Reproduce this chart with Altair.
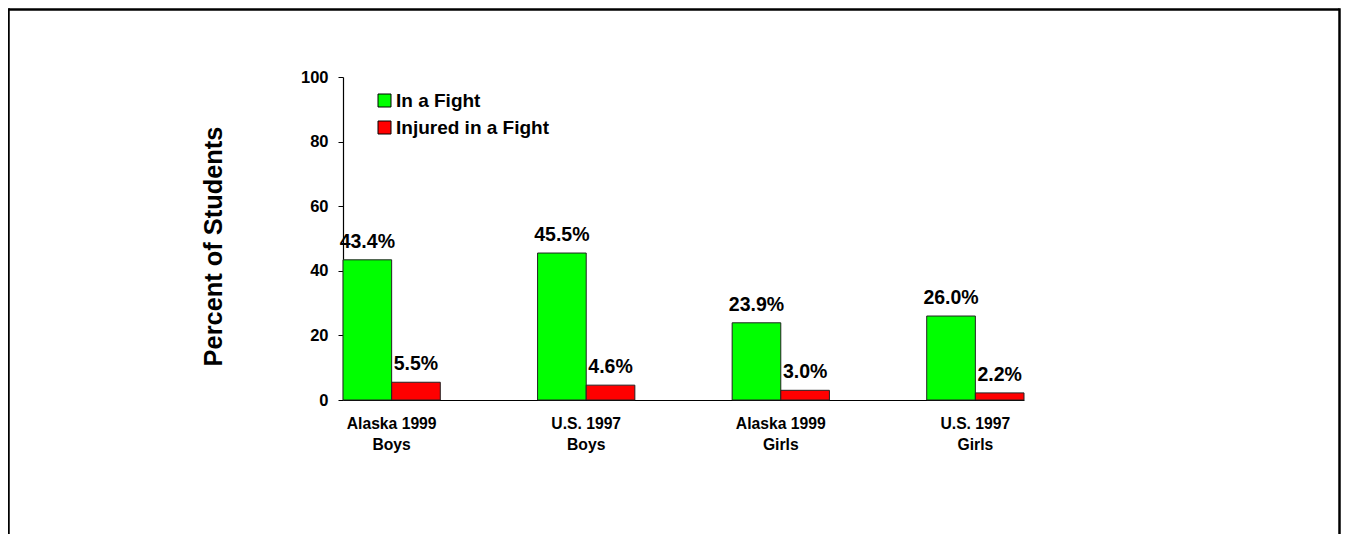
import altair as alt
import pandas as pd

groups = ["Alaska 1999|Boys", "U.S. 1997|Boys", "Alaska 1999|Girls", "U.S. 1997|Girls"]
series = ["In a Fight", "Injured in a Fight"]
fight = [43.4, 45.5, 23.9, 26.0]
injured = [5.5, 4.6, 3.0, 2.2]
colors = ["#00FF00", "#FF0000"]
y_ticks = [0, 20, 40, 60, 80, 100]

rows = []
for g, a, b in zip(groups, fight, injured):
    rows.append({"group": g, "series": series[0], "value": a})
    rows.append({"group": g, "series": series[1], "value": b})
df = pd.DataFrame(rows)

FONT = "Liberation Sans"
TOTAL_W = 1333
TOTAL_H = 526
PAD_L = 335
PAD_T = 69
PLOT_W = 681
PLOT_H = 323

x_enc = alt.X("group:N", sort=groups,
              scale=alt.Scale(paddingInner=0.5, paddingOuter=0),
              axis=alt.Axis(title=None, labelExpr="split(datum.label, '|')",
                            ticks=False, tickSize=0, labelAngle=0,
                            labelFont=FONT, labelFontWeight="bold", labelFontSize=15.7,
                            labelColor="black", labelPadding=16, labelLineHeight=21,
                            domainColor="black", domainWidth=1.2, grid=False))
xoff = alt.XOffset("series:N", sort=series, scale=alt.Scale(domain=series))
y_enc = alt.Y("value:Q", scale=alt.Scale(domain=[0, 100], nice=False),
              axis=alt.Axis(values=y_ticks, title="Percent of Students",
                            titleFont=FONT, titleFontWeight="bold", titleFontSize=25.4,
                            titleColor="black", titleAngle=270, titleBaseline="alphabetic",
                            titleX=-122, titleY=169, titleAlign="center",
                            labelFont=FONT, labelFontWeight="bold", labelFontSize=16.5,
                            labelColor="black", labelPadding=10,
                            tickSize=5, tickColor="black", domainColor="black",
                            domainWidth=1.2, grid=False))

bars = alt.Chart(df).mark_bar(stroke="#222222", strokeWidth=1).encode(
    x=x_enc, xOffset=xoff, y=y_enc,
    color=alt.Color("series:N", sort=series,
                    scale=alt.Scale(domain=series, range=colors),
                    legend=alt.Legend(title=None, orient="none", legendX=32, legendY=14,
                                      symbolType="square", symbolSize=169,
                                      symbolStrokeColor="black", symbolStrokeWidth=1,
                                      labelFont=FONT, labelFontWeight="bold",
                                      labelFontSize=19, labelColor="black",
                                      labelOffset=2, rowPadding=7, padding=0)),
)

labels = alt.Chart(df).transform_calculate(
    lab="format(datum.value, '.1f') + '%'"
).mark_text(font=FONT, fontWeight="bold", fontSize=19.5, color="black",
            baseline="alphabetic", dy=-12).encode(
    x=alt.X("group:N", sort=groups), xOffset=xoff,
    y="value:Q", text="lab:N")

one = pd.DataFrame({"k": [0]})
left_x = -PAD_L + 0.5
right_x = TOTAL_W - PAD_L - 1.5
top_y = -PAD_T + 1.5
frame_top = alt.Chart(one).mark_rule(color="black", strokeWidth=2.5).encode(
    x=alt.value(left_x), x2=alt.value(right_x), y=alt.value(top_y))
frame_left = alt.Chart(one).mark_rule(color="black", strokeWidth=2.5).encode(
    x=alt.value(left_x), y=alt.value(top_y - 1.2), y2=alt.value(480))
frame_right = alt.Chart(one).mark_rule(color="black", strokeWidth=2.5).encode(
    x=alt.value(right_x), y=alt.value(top_y - 1.2), y2=alt.value(480))

chart = alt.layer(bars, labels, frame_top, frame_left, frame_right,
                  view=alt.ViewBackground(strokeWidth=0, stroke="transparent")).properties(
    width=PLOT_W, height=PLOT_H, autosize="none",
    padding={"left": PAD_L, "top": PAD_T,
             "right": TOTAL_W - PAD_L - PLOT_W, "bottom": TOTAL_H - PAD_T - PLOT_H},
).configure_view(strokeWidth=0, stroke="transparent").configure(background="white")

chart.save("out.html", embed_options={"renderer": "svg", "actions": False})
